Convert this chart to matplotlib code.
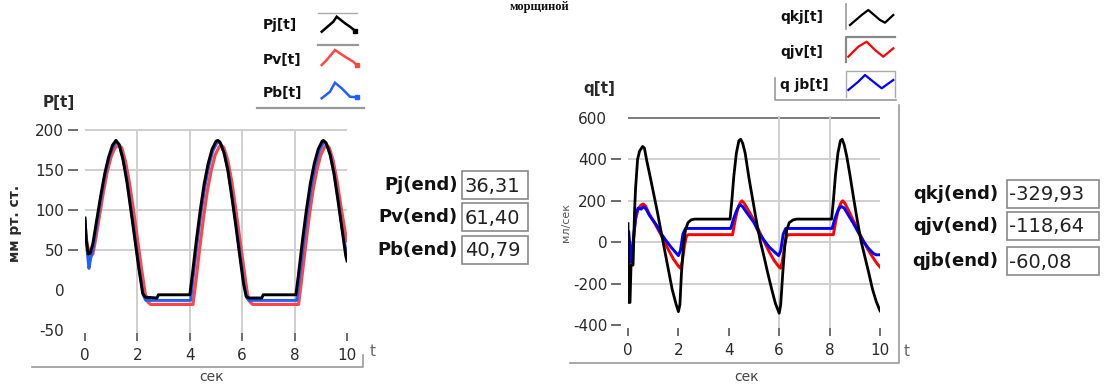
import matplotlib
matplotlib.use("Agg")
import matplotlib.pyplot as plt
from matplotlib.patches import Rectangle

W, H = 1104, 387

# ---------------- pressure series (mm Hg) ----------------
t_pj = [0.00, 0.05, 0.12, 0.20, 0.30, 0.45, 0.60, 0.75, 0.90, 1.05, 1.18, 1.30, 1.45,
        1.60, 1.75, 1.90, 2.05, 2.20, 2.30, 2.75, 2.80, 4.00, 4.10, 4.25, 4.40, 4.55,
        4.70, 4.85, 5.00, 5.07, 5.15, 5.30, 5.45, 5.60, 5.75, 5.90, 6.05, 6.15, 6.25,
        6.75, 6.80, 8.05, 8.15, 8.30, 8.45, 8.60, 8.75, 8.90, 9.05, 9.10, 9.20, 9.35,
        9.50, 9.65, 9.80, 9.95, 10.0]
pj = [90, 62, 45, 46, 58, 88, 118, 145, 166, 181, 187, 182, 163,
      135, 100, 64, 28, -4, -9, -10, -6, -6, 20, 62, 100, 133,
      158, 176, 186, 187, 185, 172, 150, 117, 82, 44, 8, -8, -10,
      -10, -6, -6, 20, 62, 100, 133, 158, 176, 186, 187, 184, 170,
      146, 113, 78, 43, 36.31]

t_pv = [0.03, 0.10, 0.20, 0.30, 0.40, 0.55, 0.70, 0.85, 1.00, 1.15, 1.28, 1.40, 1.55,
        1.70, 1.85, 2.00, 2.15, 2.30, 2.40, 2.50, 4.12, 4.22, 4.37, 4.52, 4.67, 4.82,
        4.97, 5.12, 5.20, 5.30, 5.45, 5.60, 5.75, 5.90, 6.05, 6.20, 6.30, 6.40, 8.15,
        8.25, 8.40, 8.55, 8.70, 8.85, 9.00, 9.15, 9.22, 9.32, 9.47, 9.62, 9.77, 9.92,
        10.0]
pv = [68, 55, 42, 45, 62, 92, 122, 148, 167, 178, 181, 178, 160,
      133, 100, 64, 28, -5, -15, -18, -18, 8, 50, 90, 124, 150,
      169, 179, 181, 178, 162, 136, 102, 66, 30, -5, -15, -18, -18,
      8, 50, 90, 124, 150, 169, 179, 181, 178, 162, 136, 104, 74,
      61.40]

t_pb = [0.00, 0.08, 0.15, 0.22, 0.30, 0.45, 0.60, 0.75, 0.90, 1.05, 1.20, 1.32, 1.47,
        1.62, 1.77, 1.92, 2.07, 2.22, 2.32, 4.03, 4.12, 4.27, 4.42, 4.57, 4.72, 4.87,
        5.02, 5.10, 5.18, 5.33, 5.48, 5.63, 5.78, 5.93, 6.08, 6.18, 6.25, 8.08, 8.18,
        8.33, 8.48, 8.63, 8.78, 8.93, 9.08, 9.13, 9.22, 9.37, 9.52, 9.67, 9.82, 9.97,
        10.0]
pb = [88, 50, 27, 40, 50, 82, 113, 141, 163, 178, 185, 181, 162,
      134, 99, 63, 27, -6, -13, -13, 14, 56, 95, 128, 154, 173,
      183, 185, 183, 170, 146, 114, 78, 42, 6, -10, -13, -13, 14,
      56, 95, 128, 154, 173, 183, 185, 182, 168, 144, 112, 76, 47,
      40.79]

# ---------------- flow series (ml/s) ----------------
t_qkj = [0.00, 0.03, 0.08, 0.12, 0.20, 0.26, 0.30, 0.38, 0.46, 0.58, 0.65, 0.75, 0.88,
         1.00, 1.15, 1.30, 1.45, 1.60, 1.75, 1.90, 2.00, 2.06, 2.12, 2.20, 2.28, 2.38,
         2.50, 2.65, 4.05, 4.12, 4.20, 4.30, 4.40, 4.47, 4.55, 4.65, 4.80, 4.95, 5.10,
         5.25, 5.40, 5.55, 5.70, 5.85, 6.00, 6.06, 6.14, 6.22, 6.30, 6.40, 6.55, 6.70,
         8.08, 8.15, 8.23, 8.33, 8.43, 8.50, 8.58, 8.68, 8.80, 8.95, 9.10, 9.25, 9.40,
         9.55, 9.70, 9.85, 10.0]
qkj = [90, -290, -290, -110, -110, 150, 260, 400, 440, 462, 455, 390, 316,
       245, 156, 60, -35, -130, -225, -295, -334, -300, -150, -20, 60, 95,
       108, 112, 112, 200, 320, 430, 490, 497, 478, 430, 310, 205, 100,
       5, -70, -150, -225, -295, -342, -300, -150, -20, 60, 95, 108, 112,
       112, 200, 320, 430, 490, 497, 470, 415, 330, 215, 105, 5, -70,
       -145, -225, -285, -329.93]

t_qjv = [0.02, 0.06, 0.10, 0.15, 0.22, 0.30, 0.40, 0.52, 0.60, 0.70, 0.85, 1.00, 1.20,
         1.40, 1.60, 1.80, 2.00, 2.08, 2.15, 2.25, 2.32, 2.40, 4.15, 4.25, 4.35, 4.45,
         4.52, 4.60, 4.75, 4.90, 5.05, 5.20, 5.40, 5.60, 5.80, 6.00, 6.05, 6.12, 6.22,
         6.30, 6.38, 8.15, 8.25, 8.35, 8.45, 8.52, 8.60, 8.75, 8.90, 9.05, 9.20, 9.35,
         9.50, 9.65, 9.80, 9.90, 10.0]
qjv = [0, -60, -100, -60, 20, 110, 160, 180, 185, 175, 135, 105, 60,
       15, -35, -80, -115, -125, -95, -10, 30, 37, 37, 105, 160, 190,
       200, 190, 160, 128, 95, 55, 5, -45, -88, -120, -125, -95, -10,
       30, 37, 37, 105, 160, 190, 200, 190, 155, 115, 80, 40, 5,
       -30, -60, -88, -105, -118.64]

t_qjb = [0.03, 0.08, 0.12, 0.18, 0.25, 0.32, 0.40, 0.52, 0.62, 0.72, 0.85, 1.00, 1.15,
         1.30, 1.50, 1.70, 1.90, 2.00, 2.08, 2.18, 2.28, 4.08, 4.18, 4.30, 4.40, 4.46,
         4.55, 4.70, 4.85, 5.00, 5.20, 5.40, 5.60, 5.80, 5.98, 6.06, 6.16, 6.26, 8.10,
         8.20, 8.32, 8.42, 8.48, 8.58, 8.75, 8.95, 9.15, 9.35, 9.55, 9.75, 9.85, 10.0]
qjb = [50, -20, -95, -40, 60, 140, 165, 160, 172, 160, 130, 105, 80,
       45, 10, -22, -50, -64, -40, 40, 67, 67, 110, 150, 175, 180,
       172, 145, 120, 95, 45, 10, -22, -45, -64, -40, 40, 67, 67,
       110, 150, 170, 172, 165, 130, 90, 45, 3, -30, -55, -60, -60.08]

# ---------------- axis settings / labels ----------------
x_ticks = [0, 2, 4, 6, 8, 10]
p_yticks = [-50, 0, 50, 100, 150, 200]
p_ylabels = ["-50", "0", "50", "100", "150", "200"]
p_hgrid = [50, 100, 150, 200]
p_vgrid = [2, 4, 6, 8]
q_yticks = [-400, -200, 0, 200, 400, 600]
q_hgrid = [-200, 0, 200, 400]
q_vgrid = [6, 8]

p_names = ["Pj[t]", "Pv[t]", "Pb[t]"]
p_end_names = ["Pj(end)", "Pv(end)", "Pb(end)"]
p_end_values = ["36,31", "61,40", "40,79"]
q_names = ["qkj[t]", "qjv[t]", "q jb[t]"]
q_end_names = ["qkj(end)", "qjv(end)", "qjb(end)"]
q_end_values = ["-329,93", "-118,64", "-60,08"]

BLACK = "#000000"
P_RED, P_BLUE = "#ff4646", "#1f5fff"
Q_RED, Q_BLUE = "#ff0000", "#0000ff"
GRID = "#cfcfcf"
TXT = "#2a2a2a"
FRAME = "#9a9a9a"

plt.rcParams["font.family"] = ["DejaVu Sans"]

fig = plt.figure(figsize=(W / 100, H / 100), dpi=100)
fig.patch.set_facecolor("white")


def style_axes(ax, yticks, ylabels, no_dash):
    for s in ax.spines.values():
        s.set_visible(False)
    ax.set_xlim(0, 10)
    ax.set_xticks(x_ticks)
    ax.set_xticklabels([str(v) for v in x_ticks])
    ax.set_yticks(yticks)
    ax.set_yticklabels(ylabels)
    ax.tick_params(axis="x", length=6, width=1.2, color="#555555", pad=5,
                   labelsize=11, labelcolor=TXT)
    ax.tick_params(axis="y", length=7, width=1.2, color="#555555", pad=3,
                   labelsize=11, labelcolor=TXT)
    ax.spines["left"].set_position(("outward", 5))
    for i, tk in enumerate(ax.yaxis.get_major_ticks()):
        if yticks[i] in no_dash:
            tk.tick1line.set_visible(False)


# ---------------- pressure chart ----------------
axP = fig.add_axes([85 / W, 1 - 333 / H, 262 / W, 204 / H])
axP.set_ylim(-53.75, 201.25)
for g in p_hgrid:
    axP.axhline(g, color=GRID, lw=1.4, zorder=0)
for g in p_vgrid:
    axP.axvline(g, color=GRID, lw=1.4, zorder=0)
axP.plot(t_pv, pv, color=P_RED, lw=2.3, zorder=2)
axP.plot(t_pb, pb, color=P_BLUE, lw=2.1, zorder=3)
axP.plot(t_pj, pj, color=BLACK, lw=2.1, zorder=4)
style_axes(axP, p_yticks, p_ylabels, no_dash=[0, -50])

# ---------------- flow chart ----------------
axQ = fig.add_axes([628 / W, 1 - 328 / H, 252 / W, 212 / H])
axQ.set_ylim(-413, 609)
for g in q_hgrid:
    axQ.axhline(g, color=GRID, lw=1.4, zorder=0)
axQ.axhline(600, color="#666666", lw=1.2, zorder=0)
for g in q_vgrid:
    axQ.axvline(g, color=GRID, lw=1.4, zorder=0)
axQ.plot(t_qjv, qjv, color=Q_RED, lw=2.1, zorder=2)
axQ.plot(t_qjb, qjb, color=Q_BLUE, lw=2.1, zorder=3)
axQ.plot(t_qkj, qkj, color=BLACK, lw=2.0, zorder=4)
style_axes(axQ, q_yticks, [str(v) for v in q_yticks], no_dash=[600])

# ---------------- overlay in pixel units ----------------
ov = fig.add_axes([0, 0, 1, 1], zorder=10)
ov.set_xlim(0, W)
ov.set_ylim(H, 0)
ov.axis("off")

# heading at the top edge
ov.text(540, 1, "морщиной", ha="center", va="top", fontsize=9,
        fontweight="bold", family="Liberation Serif", color="#111111")

# axis captions
ov.text(59, 103, "P[t]", ha="center", va="center", fontsize=11, fontweight="bold", color=TXT)
ov.text(15, 223, "мм рт. ст.", ha="center", va="center", rotation=90, fontsize=10,
        fontweight="bold", color=TXT)
ov.text(212, 377, "сек", ha="center", va="center", fontsize=10, color="#444444")
ov.text(373, 352, "t", ha="center", va="center", fontsize=11, color="#666666")

ov.text(599, 88, "q[t]", ha="center", va="center", fontsize=11, fontweight="bold", color=TXT)
ov.text(566, 222, "мл/сек", ha="center", va="center", rotation=90, fontsize=8,
        color="#555555")
ov.text(747, 377, "сек", ha="center", va="center", fontsize=10, color="#444444")
ov.text(907, 351, "t", ha="center", va="center", fontsize=11, color="#666666")

# frames
ov.plot([32, 363, 363], [367, 367, 355], color=FRAME, lw=1.2)
ov.plot([570, 899, 899], [363, 363, 105], color=FRAME, lw=1.2)

# pressure legend
p_rows = [25, 60, 93]
p_cols = [BLACK, P_RED, P_BLUE]
p_icons = [([321.7, 333.3, 336.7, 345, 350, 355], [31.7, 21.7, 16.7, 23.3, 26.7, 30.7]),
           ([321.7, 326.7, 335, 345, 353.3, 356.7], [65, 60, 50, 56.7, 61.7, 65]),
           ([321.7, 330, 335, 341.7, 350, 356.7], [98.3, 91.7, 82.7, 88.3, 96.7, 97.3])]
for name, yy, col, (ix, iy) in zip(p_names, p_rows, p_cols, p_icons):
    ov.text(263, yy, name, ha="left", va="center", fontsize=10, fontweight="bold", color="#111111")
    ov.plot(ix, iy, color=col, lw=1.8, solid_joinstyle="miter")
    ov.plot(ix[-1], iy[-1], "s", color=col, ms=2.5)
ov.plot([318, 357], [12.7, 12.7], color="#aaaaaa", lw=1.0)
ov.plot([318, 358], [45, 45], color="#999999", lw=1.6)
ov.plot([257, 364], [108, 108], color="#999999", lw=1.6)

# flow legend
q_rows = [17, 52, 85]
q_cols = [BLACK, Q_RED, Q_BLUE]
q_icons = [([850, 861.7, 868.3, 880, 885, 893.3], [25, 15, 10, 20, 22.7, 15]),
           ([848.3, 858.3, 866.7, 875, 883.3, 893.3], [56.7, 46.7, 41.7, 50, 56.7, 48.3]),
           ([848.3, 858.3, 865, 873.3, 881.7, 893.3], [90, 81.7, 75, 81.7, 88.3, 80])]
for name, yy, col, (ix, iy) in zip(q_names, q_rows, q_cols, q_icons):
    ov.text(780, yy, name, ha="left", va="center", fontsize=10, fontweight="bold", color="#111111")
    ov.plot(ix, iy, color=col, lw=1.6)
ov.plot([846, 846], [4, 29], color="#999999", lw=1.2)
ov.plot([846, 846, 895], [62, 37, 37], color="#888888", lw=1.6)
ov.plot([846, 846, 895, 895], [97, 71, 71, 97], color="#aaaaaa", lw=1.0)
ov.plot([775, 775, 896], [78, 100, 100], color="#999999", lw=1.2)

# end-value indicators
for name, val, yy in zip(p_end_names, p_end_values, [185, 217, 250]):
    ov.text(458, yy, name, ha="right", va="center", fontsize=13, fontweight="bold", color="#111111")
    ov.add_patch(Rectangle((462, yy - 14), 66, 28, fill=False, edgecolor="#8a8a8a", lw=1.2))
    ov.text(465, yy + 1, val, ha="left", va="center", fontsize=14, color="#222222")

for name, val, yy in zip(q_end_names, q_end_values, [194, 226, 261]):
    ov.text(998, yy, name, ha="right", va="center", fontsize=13, fontweight="bold", color="#111111")
    ov.add_patch(Rectangle((1007, yy - 14), 92, 28, fill=False, edgecolor="#8a8a8a", lw=1.2))
    ov.text(1009, yy + 1, val, ha="left", va="center", fontsize=14, color="#222222")

fig.savefig("out.png", dpi=100, facecolor="white")
